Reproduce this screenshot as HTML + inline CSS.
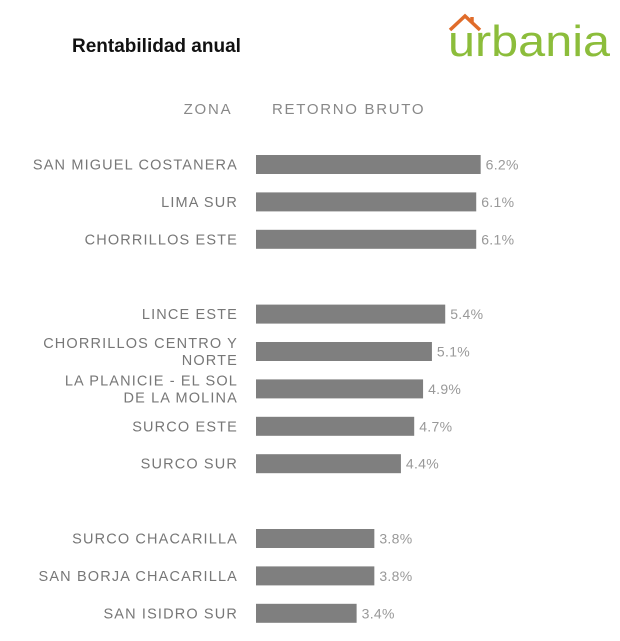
<!DOCTYPE html>
<html><head><meta charset="utf-8"><style>
body{margin:0;background:#fff;width:620px;height:641px;overflow:hidden;font-family:"Liberation Sans",sans-serif}
svg{display:block}
</style></head><body>
<svg id="c" width="620" height="641">
<text x="72" y="52" font-size="19" font-weight="bold" fill="#111">Rentabilidad anual</text>
<g>
<path d="M450 30 L465 16 L480 30" fill="none" stroke="#e06c2a" stroke-width="3.5"/>
<line x1="472" y1="17" x2="472" y2="23" stroke="#e06c2a" stroke-width="3.5"/>
<text x="448" y="56" font-size="44" fill="#8cbd3b" textLength="162" lengthAdjust="spacingAndGlyphs">urbania</text>
</g>
<text x="208" y="114" font-size="15" fill="#888" text-anchor="middle" letter-spacing="1.8">ZONA</text>
<text x="272" y="114" font-size="15" fill="#888" letter-spacing="1.7">RETORNO BRUTO</text>
<g id="bars"></g>
</svg>
<script>
const categories=[["SAN MIGUEL COSTANERA"],["LIMA SUR"],["CHORRILLOS ESTE"],["LINCE ESTE"],["CHORRILLOS CENTRO Y","NORTE"],["LA PLANICIE - EL SOL","DE LA MOLINA"],["SURCO ESTE"],["SURCO SUR"],["SURCO CHACARILLA"],["SAN BORJA CHACARILLA"],["SAN ISIDRO SUR"]];
const values=[6.2,6.1,6.1,5.4,5.1,4.9,4.7,4.4,3.8,3.8,3.4];
const slots=[0,1,2,4,5,6,7,8,10,11,12];
const x=v=>206+v*44.3;
const y=s=>164.5+s*37.4;
const g=document.getElementById('bars');
const ns='http://www.w3.org/2000/svg';
values.forEach((v,i)=>{
 const cy=y(slots[i]);
 const r=document.createElementNS(ns,'rect');
 r.setAttribute('x',256);r.setAttribute('y',cy-9.5);
 r.setAttribute('width',x(v)-256);r.setAttribute('height',19);
 r.setAttribute('fill','#7f7f7f');
 
 
 g.appendChild(r);
 const t=document.createElementNS(ns,'text');
 t.setAttribute('x',x(v)+5);t.setAttribute('y',cy+5);
 t.setAttribute('font-size','14');t.setAttribute('fill','#999');
 t.setAttribute('letter-spacing','0.3');
 t.textContent=v.toFixed(1)+'%';
 
 
 g.appendChild(t);
 const lines=categories[i];
 lines.forEach((ln,j)=>{
  const l=document.createElementNS(ns,'text');
  l.setAttribute('x',238);
  l.setAttribute('y',cy+5+(lines.length>1?(j-0.5)*17:0));
  l.setAttribute('text-anchor','end');l.setAttribute('font-size','14.5');
  l.setAttribute('fill','#777');l.setAttribute('letter-spacing','1.15');
  l.textContent=ln;
  
  
  g.appendChild(l);
 });
});
</script>
</body></html>
